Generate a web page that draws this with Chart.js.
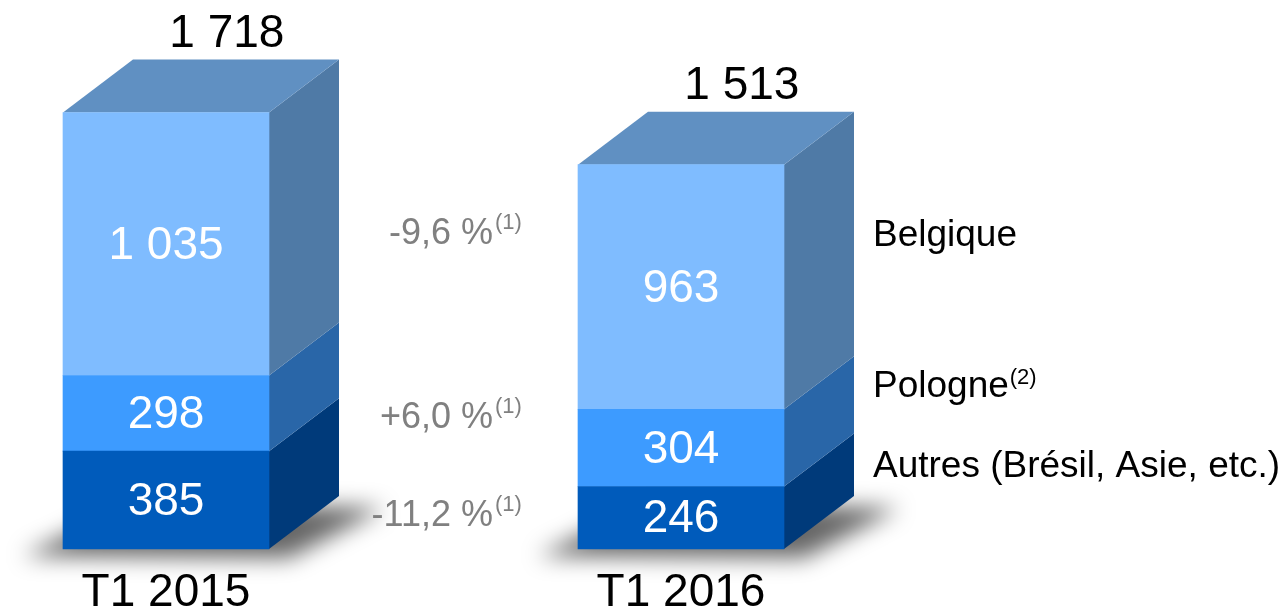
<!DOCTYPE html>
<html>
<head>
<meta charset="utf-8">
<script src="https://cdn.jsdelivr.net/npm/chart.js@4/dist/chart.umd.min.js"></script>
<style>
  html, body { margin: 0; padding: 0; background: #fff; }
  #wrap { width: 1282px; height: 611px; }
</style>
</head>
<body>
<div id="wrap"><canvas id="ca" width="1282" height="611"></canvas></div>
<script>
// Données : chiffre d'affaires par zone (T1 2015 / T1 2016)
const categories = ['T1 2015', 'T1 2016'];
const autres = [385, 246];
const pologne = [298, 304];
const belgique = [1035, 963];
const seriesNames = ['Autres (Brésil, Asie, etc.)', 'Pologne', 'Belgique'];
const seriesNotes = ['', '(2)', ''];
const variations = ['-11,2 %', '+6,0 %', '-9,6 %'];
const variationNote = '(1)';

// Couleurs (face avant / face latérale)
const frontColors = ['#005bbb', '#3d9bff', '#7fbcff'];
const sideColors = ['#003a7a', '#2966a8', '#4f7aa6'];
const topColor = '#6090c2';

const FONT = '"Liberation Sans", Arial, sans-serif';
const DX = 70, DY = -53; // profondeur 3D

function fmt(n) {
    return String(n).replace(/\B(?=(\d{3})+(?!\d))/g, ' ');
}

const cube3d = {
    id: 'cube3d',
    beforeDatasetsDraw(chart) {
        const ctx = chart.ctx;
        const metas = chart.getSortedVisibleDatasetMetas();
        const nBars = metas[0].data.length;
        for (let i = 0; i < nBars; i++) {
            const bottomBar = metas[0].data[i];
            const topBar = metas[metas.length - 1].data[i];
            const x0 = bottomBar.x - bottomBar.width / 2;
            const x1 = bottomBar.x + bottomBar.width / 2;
            const yb = bottomBar.base;
            // ombre portée
            ctx.save();
            ctx.filter = 'blur(11px)';
            ctx.fillStyle = 'rgba(0,0,0,0.6)';
            ctx.beginPath();
            ctx.moveTo(x0 - 40, yb + 7);
            ctx.lineTo(x1 + 20, yb + 9);
            ctx.lineTo(x1 + DX + 45, yb + DY + 12);
            ctx.lineTo(x0 + DX, yb + DY + 6);
            ctx.closePath();
            ctx.fill();
            ctx.restore();

            // faces latérales
            metas.forEach((meta, d) => {
                const el = meta.data[i];
                const xr = el.x + el.width / 2;
                ctx.fillStyle = sideColors[d];
                ctx.beginPath();
                ctx.moveTo(xr, el.base);
                ctx.lineTo(xr, el.y);
                ctx.lineTo(xr + DX, el.y + DY);
                ctx.lineTo(xr + DX, el.base + DY);
                ctx.closePath();
                ctx.fill();
            });
            // face supérieure
            ctx.fillStyle = topColor;
            ctx.beginPath();
            ctx.moveTo(x0, topBar.y);
            ctx.lineTo(x0 + DX, topBar.y + DY);
            ctx.lineTo(x1 + DX, topBar.y + DY);
            ctx.lineTo(x1, topBar.y);
            ctx.closePath();
            ctx.fill();
        }
    },
    afterDatasetsDraw(chart) {
        const ctx = chart.ctx;
        const metas = chart.getSortedVisibleDatasetMetas();
        const nBars = metas[0].data.length;
        ctx.save();
        ctx.textAlign = 'center';
        ctx.textBaseline = 'middle';
        // valeurs dans les segments
        ctx.fillStyle = '#ffffff';
        ctx.font = '46px ' + FONT;
        metas.forEach((meta, d) => {
            meta.data.forEach((el, i) => {
                const v = chart.data.datasets[d].data[i];
                ctx.fillText(fmt(v), el.x, (el.y + el.base) / 2 + 2);
            });
        });
        // totaux et catégories
        ctx.fillStyle = '#000000';
        ctx.textBaseline = 'alphabetic';
        for (let i = 0; i < nBars; i++) {
            const topBar = metas[metas.length - 1].data[i];
            let total = 0;
            chart.data.datasets.forEach(ds => { total += ds.data[i]; });
            ctx.fillText(fmt(total), topBar.x + DX * 0.87, topBar.y + DY - 13);
            ctx.fillText(categories[i], topBar.x, metas[0].data[i].base + 57);
        }
        // libellés des séries (à droite de la dernière barre)
        ctx.textAlign = 'left';
        ctx.textBaseline = 'middle';
        metas.forEach((meta, d) => {
            const el = meta.data[nBars - 1];
            const x = el.x + el.width / 2 + DX + 19;
            const y = (el.y + el.base) / 2 + DY + (d === 1 ? -8 : 2);
            ctx.font = '37px ' + FONT;
            ctx.fillText(seriesNames[d], x, y);
            if (seriesNotes[d]) {
                const w = ctx.measureText(seriesNames[d]).width;
                ctx.font = '22px ' + FONT;
                ctx.fillText(seriesNotes[d], x + w + 1, y - 9);
            }
        });
        // variations (entre les barres)
        const noteBaselines = [526, 428, 244];
        ctx.fillStyle = '#808080';
        ctx.textBaseline = 'alphabetic';
        variations.forEach((t, d) => {
            const xr = 493;
            ctx.textAlign = 'right';
            ctx.font = '36px ' + FONT;
            ctx.fillText(t, xr, noteBaselines[d]);
            ctx.textAlign = 'left';
            ctx.font = '22px ' + FONT;
            ctx.fillText(variationNote, xr + 2, noteBaselines[d] - 15);
        });
        ctx.restore();
    }
};

new Chart(document.getElementById('ca'), {
    type: 'bar',
    data: {
        labels: categories,
        datasets: [
            { label: seriesNames[0], data: autres, backgroundColor: frontColors[0] },
            { label: seriesNames[1], data: pologne, backgroundColor: frontColors[1] },
            { label: seriesNames[2], data: belgique, backgroundColor: frontColors[2] }
        ].map(ds => Object.assign(ds, { barThickness: 206, borderWidth: 0, clip: false }))
    },
    options: {
        responsive: false,
        animation: false,
        layout: { padding: { left: 166, right: 601, top: 60, bottom: 62 } },
        scales: {
            x: { stacked: true, display: false, offset: false },
            y: { stacked: true, display: false, min: 0, max: 1925 }
        },
        plugins: {
            legend: { display: false },
            tooltip: { enabled: false }
        }
    },
    plugins: [cube3d]
});
</script>
</body>
</html>
